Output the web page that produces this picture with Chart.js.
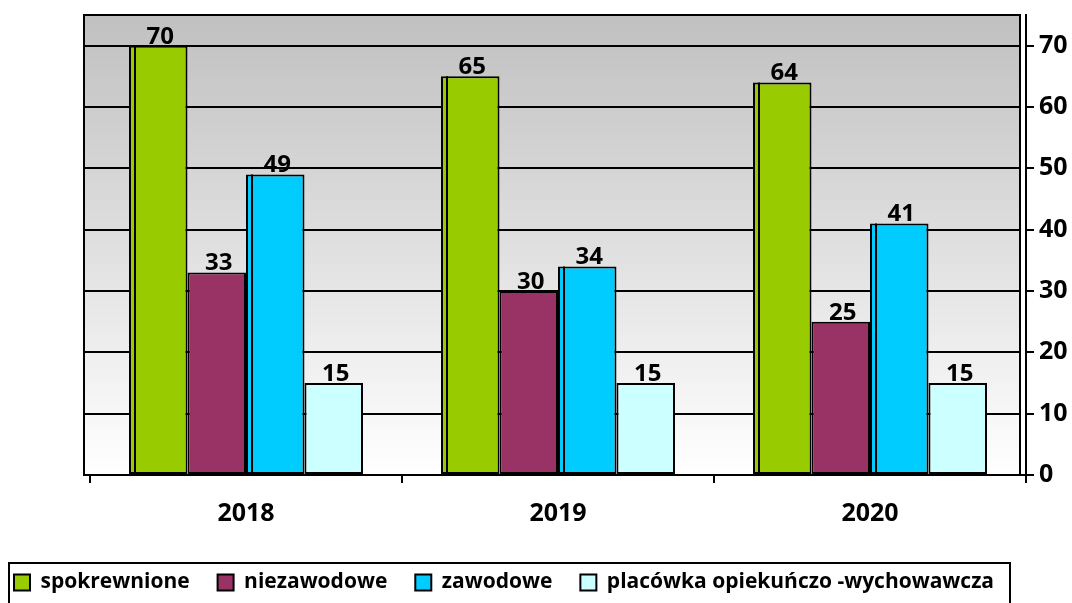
<!DOCTYPE html>
<html>
<head>
<meta charset="utf-8">
<script src="https://cdn.jsdelivr.net/npm/chart.js@4"></script>
<style>
  html, body { margin: 0; padding: 0; background: #fff; }
  #wrap { width: 1072px; height: 603px; }
</style>
</head>
<body>
<div id="wrap"><canvas id="wykres" width="1072" height="603"></canvas></div>
<script>
// dane z wykresu
var lata = ["2018", "2019", "2020"];
var spokrewnione = [70, 65, 64];
var niezawodowe = [33, 30, 25];
var zawodowe = [49, 34, 41];
var placowka = [15, 15, 15];
var osY = [0, 10, 20, 30, 40, 50, 60, 70];

var FONT = "'Open Sans', sans-serif";
var SHIFT = 6; // przesunięcie tylnej ściany (efekt 3D)
var LEG_PAD = 28;

// tło + siatka (ściana przesunięta w lewo), etykiety, ramka legendy
var sciana = {
  id: "sciana",
  beforeDatasetsDraw: function (chart) {
    var ctx = chart.ctx, a = chart.chartArea, y = chart.scales.y;
    var l = a.left - SHIFT, r = a.right - SHIFT;
    var g = ctx.createLinearGradient(0, a.top, 0, a.bottom);
    g.addColorStop(0, "#c0c0c0");
    g.addColorStop(1, "#ffffff");
    ctx.save();
    ctx.fillStyle = g;
    ctx.fillRect(l, a.top, r - l, a.bottom - a.top);
    ctx.strokeStyle = "#000";
    ctx.lineWidth = 2;
    osY.forEach(function (v) {
      var py = Math.round(y.getPixelForValue(v));
      ctx.beginPath();
      ctx.moveTo(l, py);
      ctx.lineTo(r, py);
      ctx.stroke();
    });
    ctx.strokeRect(l, a.top, r - l, a.bottom - a.top);
    ctx.restore();
  },
  afterDatasetsDraw: function (chart) {
    var ctx = chart.ctx;
    ctx.save();
    ctx.font = "bold 24px " + FONT;
    ctx.fillStyle = "#000";
    ctx.textAlign = "center";
    ctx.textBaseline = "bottom";
    chart.data.datasets.forEach(function (ds, i) {
      chart.getDatasetMeta(i).data.forEach(function (bar, j) {
        // boczna ścianka słupka
        if (ds.bok) {
          var x0 = bar.x - bar.width / 2 + SHIFT;
          ctx.strokeStyle = "#000";
          ctx.lineWidth = 2;
          ctx.beginPath();
          ctx.moveTo(x0, bar.y);
          ctx.lineTo(x0, bar.base);
          ctx.stroke();
        }
        ctx.fillText(ds.data[j], bar.x + 2, bar.y + 3);
      });
    });
    ctx.restore();
  },
  afterDraw: function (chart) {
    var lg = chart.legend;
    var ctx = chart.ctx;
    var top = lg.top + LEG_PAD - 9;
    ctx.save();
    ctx.strokeStyle = "#000";
    ctx.lineWidth = 2;
    ctx.strokeRect(9, top, 1001, chart.height - top + 5);
    ctx.restore();
  }
};

var opcjeSlupka = { yAxisID: "y", borderColor: "#000", borderWidth: 2, borderSkipped: false, categoryPercentage: 0.75, barPercentage: 1 };

new Chart(document.getElementById("wykres"), {
  type: "bar",
  data: {
    labels: lata,
    datasets: [
      Object.assign({ label: "spokrewnione", data: spokrewnione, backgroundColor: "#99cc00", bok: true }, opcjeSlupka),
      Object.assign({ label: "niezawodowe", data: niezawodowe, backgroundColor: "#993366" }, opcjeSlupka),
      Object.assign({ label: "zawodowe", data: zawodowe, backgroundColor: "#00ccff", bok: true }, opcjeSlupka),
      Object.assign({ label: "placówka opiekuńczo -wychowawcza", data: placowka, backgroundColor: "#ccffff" }, opcjeSlupka)
    ]
  },
  options: {
    responsive: false,
    animation: false,
    layout: { padding: { top: 15, left: -14, right: 0, bottom: 0 } },
    plugins: {
      tooltip: { enabled: false },
      legend: {
        position: "bottom",
        align: "start",
        labels: {
          color: "#000",
          font: { family: FONT, size: 21, weight: "bold" },
          boxWidth: 16,
          boxHeight: 16,
          padding: LEG_PAD,
          useBorderRadius: false
        }
      }
    },
    scales: {
      x: {
        grid: { display: true, drawOnChartArea: false, offset: true, color: "#000", lineWidth: 2, tickLength: 8 },
        border: { display: true, color: "#000", width: 2 },
        ticks: { color: "#000", font: { family: FONT, size: 25, weight: "bold" }, padding: 16 },
        afterFit: function (s) { s.height = 69; }
      },
      lewa: {
        position: "left",
        display: true,
        grid: { display: false },
        border: { display: false },
        ticks: { display: false },
        afterFit: function (s) { s.width = 104; }
      },
      y: {
        position: "right",
        min: 0,
        max: 75,
        afterBuildTicks: function (s) {
          s.ticks = osY.map(function (v) { return { value: v }; });
        },
        grid: { drawOnChartArea: false, color: "#000", lineWidth: 2, tickLength: 8 },
        border: { display: true, color: "#000", width: 2 },
        ticks: { color: "#000", font: { family: FONT, size: 25, weight: "bold" }, padding: 5 },
        afterFit: function (s) { s.width = 46; s.paddingTop = 0; s.paddingBottom = 0; }
      }
    }
  },
  plugins: [sciana]
});
</script>
</body>
</html>
